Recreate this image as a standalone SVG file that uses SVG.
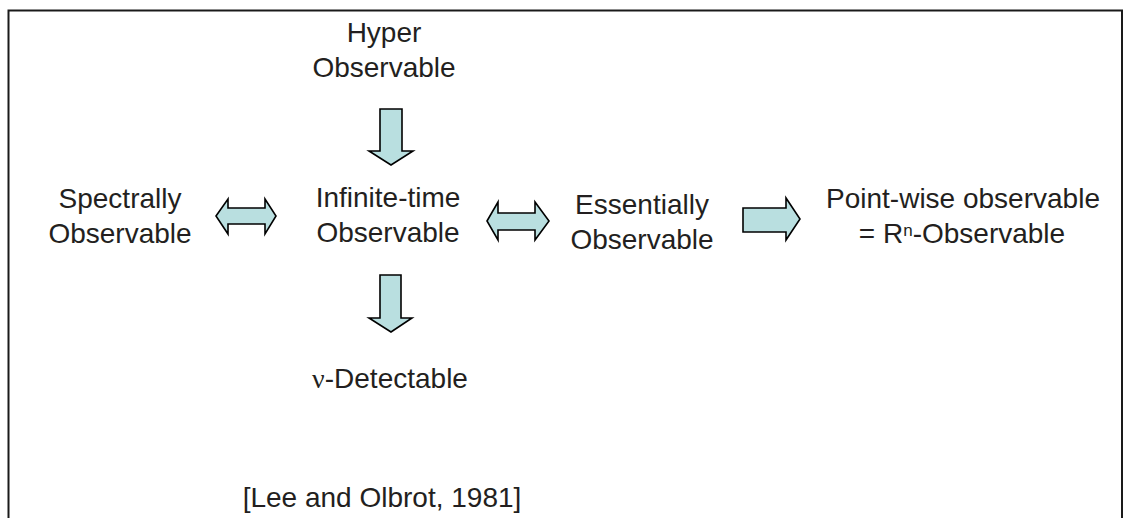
<svg xmlns="http://www.w3.org/2000/svg" width="1126" height="518" viewBox="0 0 1126 518">
<style>
text{font-family:"Liberation Sans",Arial,sans-serif;font-size:28px;fill:#231f20;text-anchor:middle}
.arr{fill:#b9dfe0;stroke:#000;stroke-width:1.6;stroke-linejoin:miter}
.sym{font-family:"Liberation Serif","Times New Roman",serif}
</style>
<rect width="1126" height="518" fill="#fff"/>
<path d="M8.5,530 V10.5 H1122 V530" fill="none" stroke="#1a1a1a" stroke-width="2"/>
<g id="hyper"><text x="384" y="42">Hyper</text><text x="384" y="77">Observable</text></g>
<g id="spectral"><text x="120" y="208">Spectrally</text><text x="120" y="243">Observable</text></g>
<g id="infinite"><text x="388" y="207">Infinite-time</text><text x="388" y="242">Observable</text></g>
<g id="essential"><text x="642" y="214">Essentially</text><text x="642" y="249">Observable</text></g>
<g id="pointwise"><text x="963" y="208">Point-wise observable</text><text x="962" y="243">= R<tspan font-size="17" dy="-7">n</tspan><tspan dy="7">-Observable</tspan></text></g>
<g id="detectable"><text x="390" y="388"><tspan class="sym">ν</tspan>-Detectable</text></g>
<g id="citation"><text x="382" y="507">[Lee and Olbrot, 1981]</text></g>
<g id="connectors">
<path class="arr" d="M380,109 H402 V151 H413 L391,165 L369,151 H380 Z"/>
<path class="arr" d="M380,275 H401 V318 H412 L391,332 L369,318 H380 Z"/>
<path class="arr" d="M216,216 L228,199 V208 H265 V199 L276,216 L265,234 V224 H228 V234 Z"/>
<path class="arr" d="M487,221 L498,202 V213 H535 V202 L549,221 L535,240 V230 H498 V240 Z"/>
<path class="arr" d="M743,208 H786 V198 L800,219 L786,240 V232 H743 Z"/>
</g>
</svg>
